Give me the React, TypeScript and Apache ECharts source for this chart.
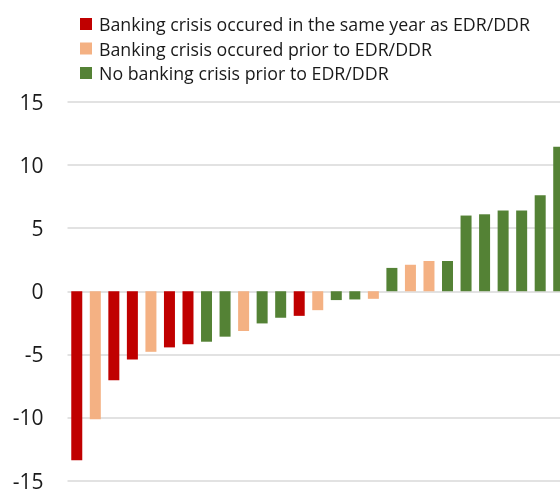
import React, { useEffect, useRef } from "react";
import * as echarts from "echarts";

const categories = [
  "1", "2", "3", "4", "5", "6", "7", "8", "9", "10", "11", "12", "13", "14",
  "15", "16", "17", "18", "19", "20", "21", "22", "23", "24", "25", "26", "27",
];
const values = [
  -13.4, -10.15, -7.05, -5.4, -4.8, -4.45, -4.2, -4.0, -3.6, -3.15, -2.55, -2.1,
  -1.95, -1.5, -0.7, -0.65, -0.6, 1.85, 2.1, 2.4, 2.4, 6.0, 6.1, 6.4, 6.4, 7.6, 11.45,
];
const groups = [
  "same", "prior", "same", "same", "prior", "same", "same", "none", "none", "prior",
  "none", "none", "same", "prior", "none", "none", "prior", "none", "prior", "prior",
  "none", "none", "none", "none", "none", "none", "none",
];
const seriesNames = [
  "Banking crisis occured in the same year as EDR/DDR",
  "Banking crisis occured prior to EDR/DDR",
  "No banking crisis prior to EDR/DDR",
];
const seriesKeys = ["same", "prior", "none"];
const seriesColors = ["#C00000", "#F4B183", "#548235"];
const yTicks = { min: -15, max: 15, interval: 5 };

export default function App() {
  const ref = useRef<HTMLDivElement>(null);
  useEffect(() => {
    if (!ref.current) return;
    const chart = echarts.init(ref.current, undefined, { renderer: "svg" });
    const font = "'Open Sans', 'Noto Sans', sans-serif";
    chart.setOption({
      animation: false,
      textStyle: { fontFamily: font },
      legend: {
        orient: "vertical",
        left: 75,
        top: 10,
        itemWidth: 12,
        itemHeight: 12,
        itemGap: 6.5,
        icon: "rect",
        selectedMode: false,
        textStyle: { fontSize: 17.8, color: "#1a1a1a", fontFamily: font, padding: [0, 0, 0, 2] },
        data: seriesNames,
      },
      grid: { left: 67.5, right: 0, top: 102, bottom: 8, containLabel: false },
      xAxis: {
        type: "category",
        data: categories,
        axisLine: { show: false },
        axisTick: { show: false },
        axisLabel: { show: false },
        splitLine: { show: false },
      },
      yAxis: {
        type: "value",
        min: yTicks.min,
        max: yTicks.max,
        interval: yTicks.interval,
        axisLine: { show: false },
        axisTick: { show: false },
        axisLabel: { fontSize: 21, color: "#1a1a1a", margin: 24, fontFamily: font },
        splitLine: { lineStyle: { color: "#D9D9D9", width: 1.5 } },
      },
      series: seriesKeys.map((k, i) => ({
        name: seriesNames[i],
        type: "bar",
        stack: "all",
        barWidth: 11,
        itemStyle: { color: seriesColors[i] },
        data: values.map((v, j) => (groups[j] === k ? v : "-")),
      })),
    });
    return () => chart.dispose();
  }, []);
  return (
    <div
      style={{
        position: "fixed",
        left: 0,
        top: 0,
        width: 560,
        height: 491,
        overflow: "hidden",
      }}
    >
      <div ref={ref} style={{ width: 568, height: 491 }} />
    </div>
  );
}
